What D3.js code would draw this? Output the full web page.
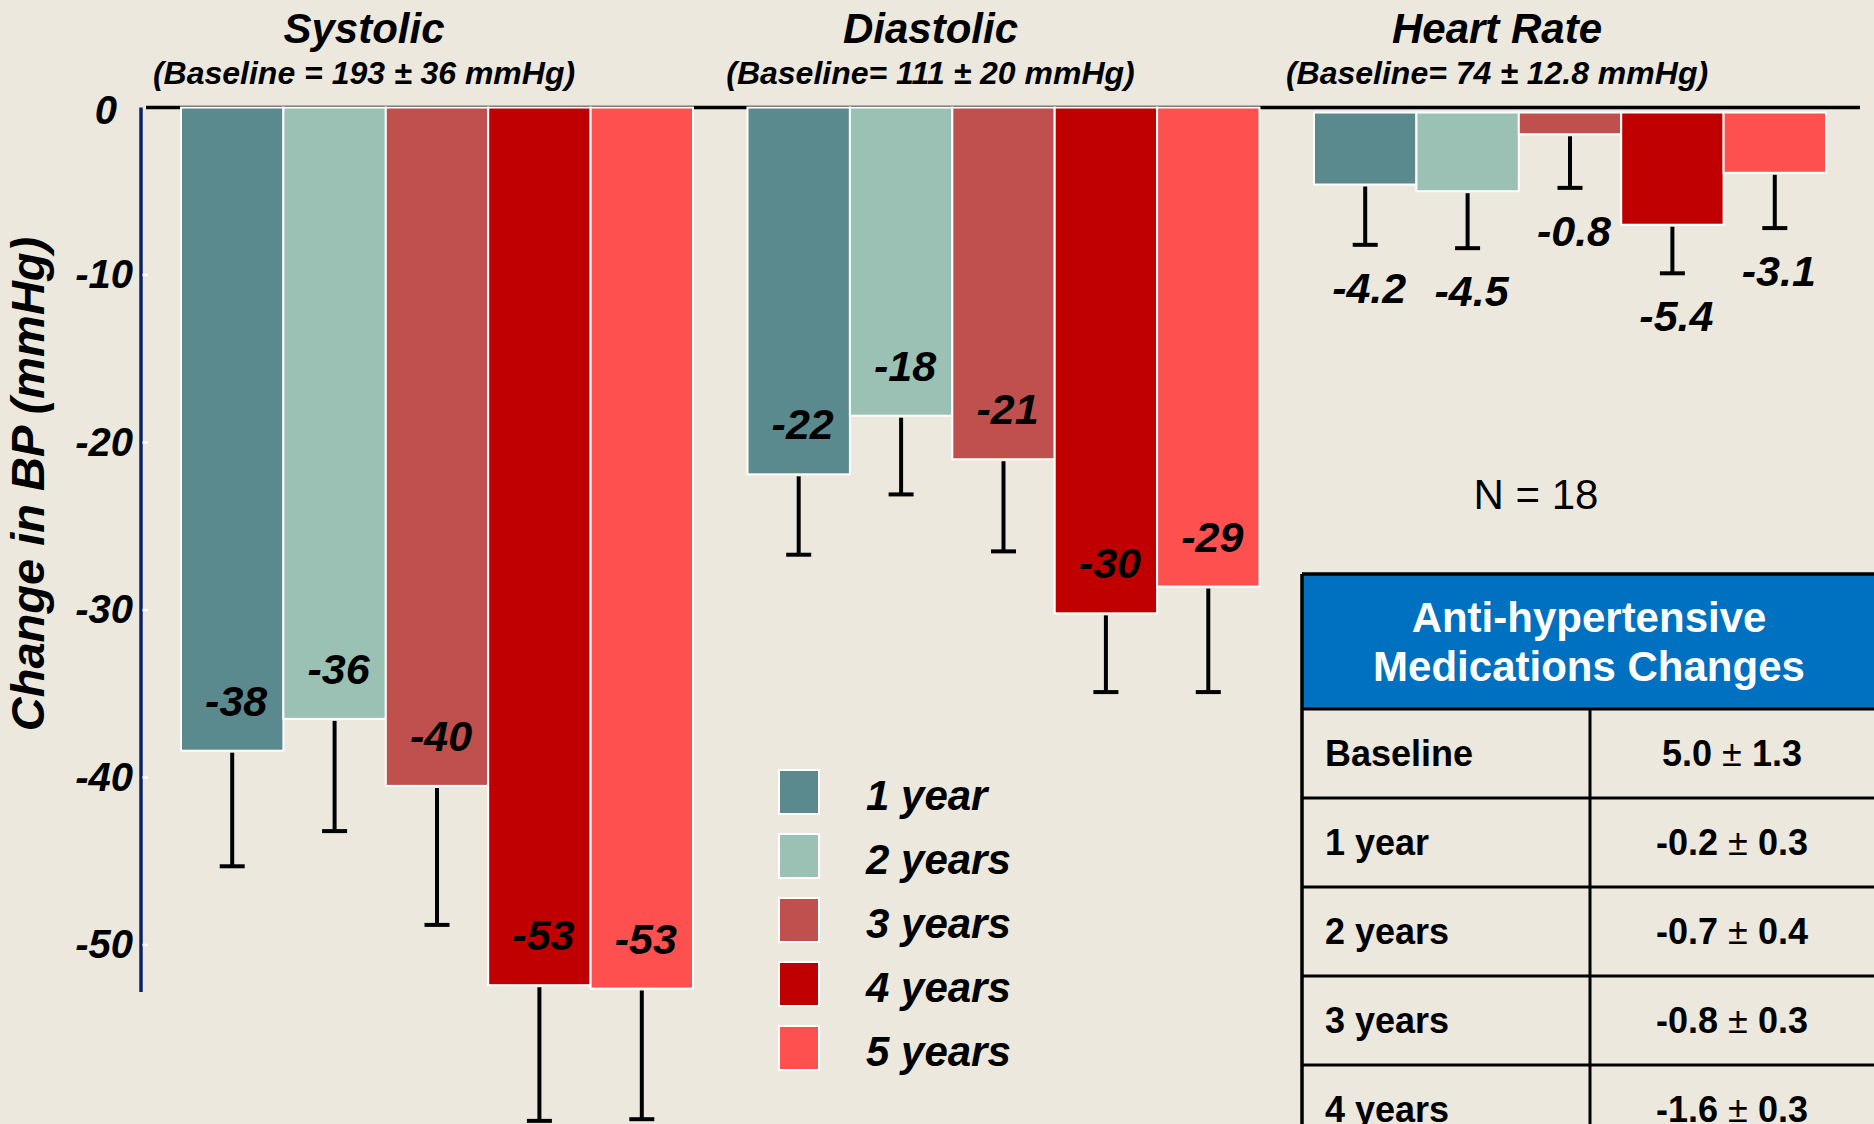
<!DOCTYPE html>
<html>
<head>
<meta charset="utf-8">
<script src="https://cdn.jsdelivr.net/npm/d3@7"></script>
<style>
  html, body { margin: 0; padding: 0; background: #ECE8DE; }
  svg { display: block; }
  text { font-family: "Liberation Sans", Arial, sans-serif; }
</style>
</head>
<body>
<svg id="chart" width="1874" height="1124"></svg>
<script>
// ---------------- data ----------------
const groups = ["Systolic", "Diastolic", "Heart Rate"];
const baselines = ["(Baseline = 193 \u00B1 36 mmHg)", "(Baseline= 111 \u00B1 20 mmHg)", "(Baseline= 74 \u00B1 12.8 mmHg)"];
const series = ["1 year", "2 years", "3 years", "4 years", "5 years"];
const colors = ["#5B8A8E", "#9BC0B4", "#C0504D", "#C00000", "#FF5050"];

const systolicValues = [-38.4, -36.5, -40.5, -52.4, -52.6];
const systolicSD     = [6.9, 6.7, 8.3, 8.1, 7.8];
const systolicLabels = ["-38", "-36", "-40", "-53", "-53"];

const diastolicValues = [-21.9, -18.4, -21.0, -30.2, -28.6];
const diastolicSD     = [4.8, 4.7, 5.5, 4.7, 6.3];
const diastolicLabels = ["-22", "-18", "-21", "-30", "-29"];

const hrValues = [-4.3, -4.7, -1.3, -6.7, -3.6];
const hrSD     = [3.6, 3.4, 3.2, 2.9, 3.3];
const hrLabels = ["-4.2", "-4.5", "-0.8", "-5.4", "-3.1"];

const yTicks = [0, -10, -20, -30, -40, -50];
const yTitle = "Change in BP (mmHg)";
const nText = "N = 18";

const tableTitle = ["Anti-hypertensive", "Medications Changes"];
const medRows = ["Baseline", "1 year", "2 years", "3 years", "4 years"];
const medMean = ["5.0", "-0.2", "-0.7", "-0.8", "-1.6"];
const medSD   = ["1.3", "0.3", "0.4", "0.3", "0.3"];

// ---------------- layout ----------------
const svg = d3.select("#chart");
const W = 1874, H = 1124;
svg.append("rect").attr("width", W).attr("height", H).attr("fill", "#ECE8DE");

const y = d3.scaleLinear().domain([0, -50]).range([107.5, 945]);
const x0 = d3.scaleBand().domain(groups).range([181, 1826]).paddingInner(0.0962).paddingOuter(0);
const x1 = d3.scaleBand().domain(series).range([0, x0.bandwidth()]).padding(0);
const color = d3.scaleOrdinal().domain(series).range(colors);

const groupData = [
  { name: groups[0], baseline: baselines[0], values: systolicValues, sd: systolicSD, labels: systolicLabels, shift: 0, below: false },
  { name: groups[1], baseline: baselines[1], values: diastolicValues, sd: diastolicSD, labels: diastolicLabels, shift: 0, below: false },
  { name: groups[2], baseline: baselines[2], values: hrValues, sd: hrSD, labels: hrLabels, shift: 5, below: true }
];

const FONT = '"Liberation Sans", Arial, sans-serif';

// zero line
svg.append("line")
  .attr("x1", 146).attr("x2", 1860)
  .attr("y1", y(0)).attr("y2", y(0))
  .attr("stroke", "#000").attr("stroke-width", 3.5);

// group titles
groupData.forEach(g => {
  const cx = x0(g.name) + x0.bandwidth() / 2 - 73;
  svg.append("text")
    .attr("x", cx).attr("y", 43)
    .attr("text-anchor", "middle")
    .attr("font-size", 42).attr("font-weight", "bold").attr("font-style", "italic")
    .attr("fill", "#000")
    .text(g.name);
  svg.append("text")
    .attr("x", cx).attr("y", 84)
    .attr("text-anchor", "middle")
    .attr("font-size", 32).attr("font-weight", "bold").attr("font-style", "italic")
    .attr("fill", "#000")
    .text(g.baseline);
});

// bars, error bars, labels
groupData.forEach(g => {
  const gg = svg.append("g")
    .attr("transform", `translate(${x0(g.name)},${g.shift})`);
  const rows = series.map((s, i) => ({ s, v: g.values[i], sd: g.sd[i], label: g.labels[i] }));

  gg.selectAll("rect.bar").data(rows).enter().append("rect")
    .attr("class", "bar")
    .attr("x", d => x1(d.s))
    .attr("y", y(0))
    .attr("width", x1.bandwidth())
    .attr("height", d => y(d.v) - y(0))
    .attr("fill", d => color(d.s))
    .attr("stroke", "#fff").attr("stroke-width", 2);

  const eb = gg.selectAll("g.err").data(rows).enter().append("g").attr("class", "err");
  eb.append("line")
    .attr("x1", d => x1(d.s) + x1.bandwidth() / 2)
    .attr("x2", d => x1(d.s) + x1.bandwidth() / 2)
    .attr("y1", d => y(d.v) + 2)
    .attr("y2", d => y(d.v - d.sd))
    .attr("stroke", "#000").attr("stroke-width", 4);
  eb.append("line")
    .attr("x1", d => x1(d.s) + x1.bandwidth() / 2 - 12.5)
    .attr("x2", d => x1(d.s) + x1.bandwidth() / 2 + 12.5)
    .attr("y1", d => y(d.v - d.sd))
    .attr("y2", d => y(d.v - d.sd))
    .attr("stroke", "#000").attr("stroke-width", 4);

  gg.selectAll("text.val").data(rows).enter().append("text")
    .attr("class", "val")
    .attr("x", d => x1(d.s) + x1.bandwidth() / 2 + 4)
    .attr("y", d => g.below ? y(d.v - d.sd) + 43 : y(d.v) - 50)
    .attr("dy", "0.35em")
    .attr("text-anchor", "middle")
    .attr("font-size", 43).attr("font-weight", "bold").attr("font-style", "italic")
    .attr("fill", "#000")
    .text(d => d.label);
});

// y axis
const axisX = 141;
const yAxis = d3.axisLeft(y).tickValues(yTicks).tickSize(0).tickPadding(8).tickFormat(d => String(d));
const ax = svg.append("g").attr("transform", `translate(${axisX},0)`).call(yAxis);
ax.select(".domain").remove();
ax.selectAll("text")
  .attr("font-family", FONT)
  .attr("font-size", 40).attr("font-weight", "bold").attr("font-style", "italic")
  .attr("fill", "#000");
ax.selectAll(".tick").filter(d => d === 0).select("text").attr("x", -24).attr("dy", "0.4em");

svg.append("line")
  .attr("x1", axisX).attr("x2", axisX)
  .attr("y1", y(0)).attr("y2", y(-52.8))
  .attr("stroke", "#0B2466").attr("stroke-width", 3.5);
svg.selectAll("line.ytick").data(yTicks.filter(d => d !== 0)).enter().append("line")
  .attr("class", "ytick")
  .attr("x1", axisX + 1.5).attr("x2", axisX + 7)
  .attr("y1", d => y(d)).attr("y2", d => y(d))
  .attr("stroke", "#fff").attr("stroke-width", 2.5);

svg.append("text")
  .attr("transform", `translate(44,484) rotate(-90)`)
  .attr("text-anchor", "middle")
  .attr("font-size", 47).attr("font-weight", "bold").attr("font-style", "italic")
  .attr("fill", "#000")
  .text(yTitle);

// legend
const legend = svg.append("g");
const lg = legend.selectAll("g").data(series).enter().append("g")
  .attr("transform", (d, i) => `translate(779,${770 + i * 64})`);
lg.append("rect")
  .attr("width", 40).attr("height", 44)
  .attr("fill", d => color(d))
  .attr("stroke", "#fff").attr("stroke-width", 2);
lg.append("text")
  .attr("x", 87).attr("y", 25).attr("dy", "0.35em")
  .attr("font-size", 42).attr("font-weight", "bold").attr("font-style", "italic")
  .attr("fill", "#000")
  .text(d => d);

// N = 18
svg.append("text")
  .attr("x", 1536).attr("y", 494).attr("dy", "0.35em")
  .attr("text-anchor", "middle")
  .attr("font-size", 42)
  .attr("fill", "#000")
  .text(nText);

// table
const tX = 1302, tRight = 1878, tTop = 574, hdrH = 135, rowH = 89, colX = 1590;
const table = svg.append("g");
table.append("rect")
  .attr("x", tX).attr("y", tTop).attr("width", tRight - tX).attr("height", hdrH)
  .attr("fill", "#0070C0");
table.selectAll("text.hdr").data(tableTitle).enter().append("text")
  .attr("class", "hdr")
  .attr("x", (tX + tRight) / 2 - 1)
  .attr("y", (d, i) => tTop + 43 + i * 49).attr("dy", "0.35em")
  .attr("text-anchor", "middle")
  .attr("font-size", 42).attr("font-weight", "bold")
  .attr("fill", "#fff")
  .text(d => d);

const rowIdx = d3.range(medRows.length);
const rowY = d3.scaleLinear().domain([0, 1]).range([tTop + hdrH, tTop + hdrH + rowH]);
const tableBottom = rowY(medRows.length);

// grid lines
table.selectAll("line.hl").data(d3.range(medRows.length + 1)).enter().append("line")
  .attr("class", "hl")
  .attr("x1", tX).attr("x2", tRight)
  .attr("y1", d => rowY(d)).attr("y2", d => rowY(d))
  .attr("stroke", "#000").attr("stroke-width", 3);
table.append("line").attr("x1", tX).attr("x2", tRight).attr("y1", tTop).attr("y2", tTop)
  .attr("stroke", "#000").attr("stroke-width", 3.5);
table.append("line").attr("x1", tX).attr("x2", tX).attr("y1", tTop).attr("y2", tableBottom)
  .attr("stroke", "#000").attr("stroke-width", 3.5);
table.append("line").attr("x1", colX).attr("x2", colX).attr("y1", tTop + hdrH).attr("y2", tableBottom)
  .attr("stroke", "#000").attr("stroke-width", 3);

table.selectAll("text.rl").data(rowIdx).enter().append("text")
  .attr("class", "rl")
  .attr("x", tX + 23)
  .attr("y", d => rowY(d + 0.5)).attr("dy", "0.35em")
  .attr("font-size", 36).attr("font-weight", "bold")
  .attr("fill", "#000")
  .text(d => medRows[d]);

const vt = table.selectAll("text.rv").data(rowIdx).enter().append("text")
  .attr("class", "rv")
  .attr("x", (colX + tRight) / 2 - 2)
  .attr("y", d => rowY(d + 0.5)).attr("dy", "0.35em")
  .attr("text-anchor", "middle")
  .attr("font-size", 36).attr("font-weight", "bold")
  .attr("fill", "#000");
vt.append("tspan").text(d => medMean[d] + " ");
vt.append("tspan").attr("font-weight", "normal").text("\u00B1");
vt.append("tspan").text(d => " " + medSD[d]);
</script>
</body>
</html>
